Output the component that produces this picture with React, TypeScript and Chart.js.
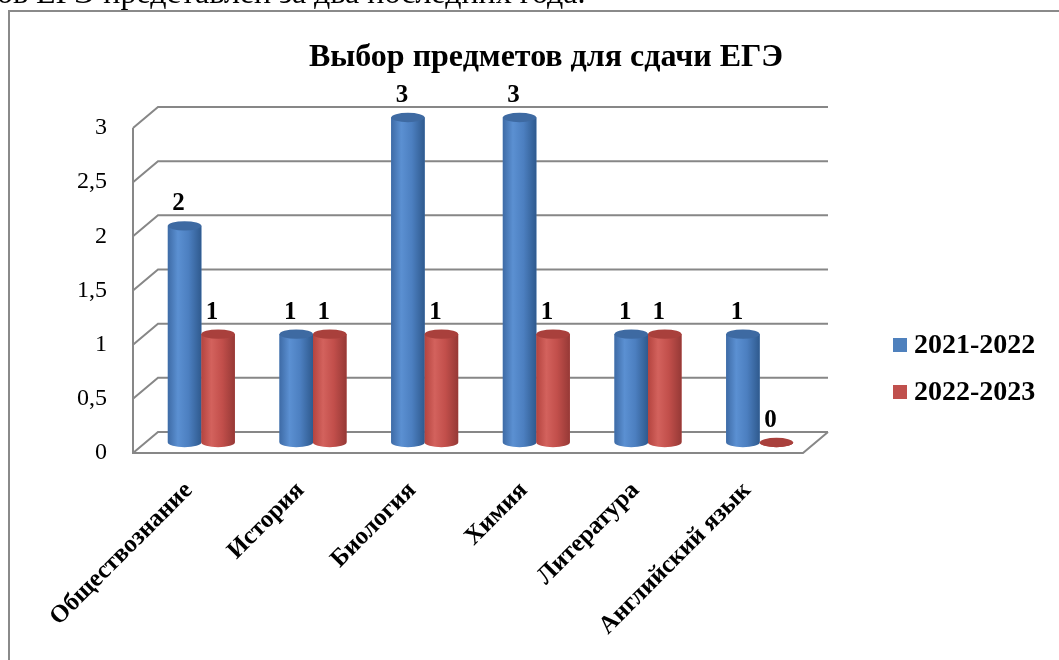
import React, { useEffect, useRef } from "react";
import { Chart, registerables } from "chart.js";

Chart.register(...registerables);

const categories = ["Обществознание", "История", "Биология", "Химия", "Литература", "Английский язык"];
const series2021 = [2, 1, 3, 3, 1, 1];
const series2022 = [1, 1, 1, 1, 1, 0];
const seriesLabels = ["2021-2022", "2022-2023"];
const yMin = 0;
const yMax = 3;
const yStep = 0.5;
const chartTitle = "Выбор предметов для сдачи ЕГЭ";
const introText = "ов ЕГЭ представлен за два последних года.";

const FONT = '"Liberation Serif", "Times New Roman", serif';
const W = 1059;
const H = 660;
const DEPTH_X = 25;
const DEPTH_Y = -21;
const BAR_SHIFT_X = 12.5;
const BAR_SHIFT_Y = -10.5;
const GRID_COLOR = "#878787";

const palettes = [
  { base: "#4F81BD", stops: ["#3E6BA6", "#5B90D2", "#4C7FC0", "#2F5A8E"], top: "#3E6AA2" },
  { base: "#C0504D", stops: ["#B4443F", "#D3625D", "#C24F4B", "#963936"], top: "#A9403C" },
];

function drawCylinder(ctx: CanvasRenderingContext2D, x: number, top: number, base: number, w: number, pal: any) {
  const x0 = x - w / 2;
  const x1 = x + w / 2;
  const ry = w * 0.14;
  const g = ctx.createLinearGradient(x0, 0, x1, 0);
  g.addColorStop(0, pal.stops[0]);
  g.addColorStop(0.3, pal.stops[1]);
  g.addColorStop(0.62, pal.stops[2]);
  g.addColorStop(1, pal.stops[3]);
  ctx.fillStyle = g;
  ctx.beginPath();
  ctx.moveTo(x0, top);
  ctx.lineTo(x0, base);
  ctx.ellipse(x, base, w / 2, ry, 0, Math.PI, 0, true);
  ctx.lineTo(x1, top);
  ctx.closePath();
  ctx.fill();
  ctx.fillStyle = pal.top;
  ctx.beginPath();
  ctx.ellipse(x, top, w / 2, ry, 0, 0, Math.PI * 2);
  ctx.fill();
}

const decorPlugin = {
  id: "decor3d",
  beforeDraw(chart: any) {
    const ctx: CanvasRenderingContext2D = chart.ctx;
    const { left, right, top, bottom } = chart.chartArea;
    const ys = chart.scales.y;
    ctx.save();
    ctx.fillStyle = "#ffffff";
    ctx.fillRect(0, 0, W, H);

    // clipped paragraph line above the chart frame
    ctx.fillStyle = "#000";
    ctx.font = `32px ${FONT}`;
    ctx.textAlign = "left";
    ctx.textBaseline = "alphabetic";
    ctx.fillText(introText, -3, 3);

    // frame
    ctx.strokeStyle = "#8a8a8a";
    ctx.lineWidth = 2;
    ctx.beginPath();
    ctx.moveTo(9, H + 2);
    ctx.lineTo(9, 11);
    ctx.lineTo(W + 2, 11);
    ctx.stroke();

    // walls and gridlines
    ctx.strokeStyle = GRID_COLOR;
    ctx.lineWidth = 2;
    ctx.beginPath();
    for (let v = yMin; v <= yMax + 1e-9; v += yStep) {
      const fy = ys.getPixelForValue(v);
      ctx.moveTo(left, fy);
      ctx.lineTo(left + DEPTH_X, fy + DEPTH_Y);
      ctx.lineTo(right + DEPTH_X, fy + DEPTH_Y);
    }
    ctx.moveTo(left, top);
    ctx.lineTo(left, bottom);
    ctx.lineTo(right, bottom);
    ctx.lineTo(right + DEPTH_X, bottom + DEPTH_Y);
    ctx.stroke();

    // title
    ctx.fillStyle = "#000";
    ctx.font = `bold 32px ${FONT}`;
    ctx.textAlign = "center";
    ctx.textBaseline = "middle";
    ctx.fillText(chartTitle, 546, 58);

    // legend
    chart.data.datasets.forEach((ds: any, i: number) => {
      const cy = 345 + i * 47;
      ctx.fillStyle = ds.backgroundColor;
      ctx.fillRect(893, cy - 7, 14, 14);
      ctx.fillStyle = "#000";
      ctx.font = `bold 28px ${FONT}`;
      ctx.textAlign = "left";
      ctx.textBaseline = "middle";
      ctx.fillText(ds.label, 914, cy + 1);
    });
    ctx.restore();
  },
  beforeDatasetsDraw(chart: any) {
    chart.ctx.save();
    chart.ctx.translate(BAR_SHIFT_X, BAR_SHIFT_Y);
  },
  afterDatasetsDraw(chart: any) {
    const ctx: CanvasRenderingContext2D = chart.ctx;
    chart.data.datasets.forEach((ds: any, di: number) => {
      const meta = chart.getDatasetMeta(di);
      meta.data.forEach((bar: any) => {
        const p = bar.getProps(["x", "y", "base", "width"], true);
        drawCylinder(ctx, p.x, p.y, p.base, p.width, palettes[di]);
      });
    });
    ctx.fillStyle = "#000";
    ctx.font = `bold 25px ${FONT}`;
    ctx.textAlign = "center";
    ctx.textBaseline = "middle";
    chart.data.datasets.forEach((ds: any, di: number) => {
      const meta = chart.getDatasetMeta(di);
      meta.data.forEach((bar: any, i: number) => {
        const p = bar.getProps(["x", "y"], true);
        ctx.fillText(String(ds.data[i]), p.x - 6, p.y - 22);
      });
    });
    ctx.restore();
  },
};

export default function App() {
  const ref = useRef<HTMLCanvasElement | null>(null);
  useEffect(() => {
    if (!ref.current) return;
    const chart = new Chart(ref.current, {
      type: "bar",
      data: {
        labels: categories,
        datasets: [
          { label: seriesLabels[0], data: series2021, backgroundColor: palettes[0].base, borderWidth: 0 },
          { label: seriesLabels[1], data: series2022, backgroundColor: palettes[1].base, borderWidth: 0 },
        ],
      },
      options: {
        animation: false,
        responsive: false,
        devicePixelRatio: 1,
        layout: { padding: { left: 0, right: W - 803, top: 128, bottom: 0 } },
        datasets: { bar: { categoryPercentage: 0.6, barPercentage: 1.0 } },
        plugins: {
          legend: { display: false },
          title: { display: false },
          tooltip: { enabled: false },
        },
        scales: {
          x: {
            grid: { display: false, drawTicks: false },
            border: { display: false },
            ticks: {
              autoSkip: false,
              minRotation: 45,
              maxRotation: 45,
              padding: 23,
              color: "#000",
              font: { family: FONT, size: 25, weight: "bold" },
            },
            afterFit: (s: any) => {
              s.height = H - 453;
            },
          },
          y: {
            min: yMin,
            max: yMax,
            grid: { display: false, drawTicks: false },
            border: { display: false },
            ticks: {
              stepSize: yStep,
              padding: 26,
              color: "#000",
              font: { family: FONT, size: 24 },
              callback: (v: any) => String(v).replace(".", ","),
            },
            afterFit: (s: any) => {
              s.width = 133;
            },
          },
        },
      },
      plugins: [decorPlugin],
    });
    return () => chart.destroy();
  }, []);
  return (
    <div style={{ position: "fixed", left: 0, top: 0, width: W, height: H, background: "#fff" }}>
      <canvas ref={ref} width={W} height={H} style={{ display: "block", width: W, height: H }} />
    </div>
  );
}
